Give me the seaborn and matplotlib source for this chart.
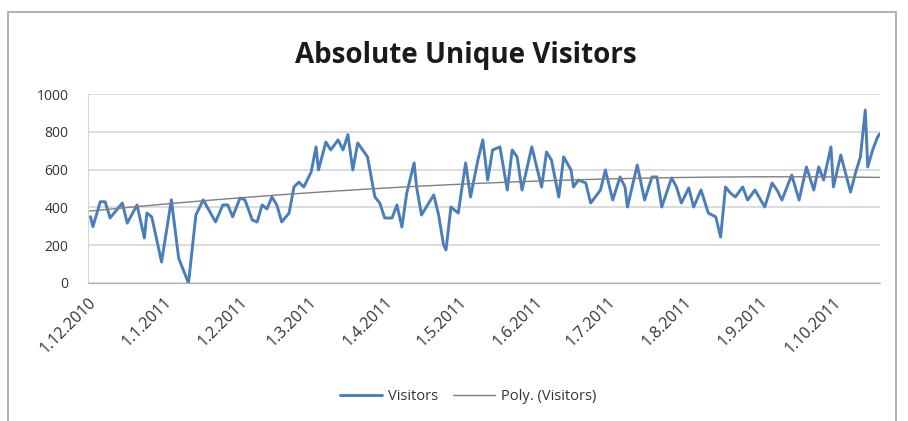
import matplotlib
matplotlib.use("Agg")
import matplotlib.pyplot as plt
import matplotlib.dates as mdates
import numpy as np
import pandas as pd
import seaborn as sns
from matplotlib.patches import Rectangle

# values: days since 1.12.2010 and unique visitors
DAYS = [1, 2, 5, 7, 9, 14, 16, 20, 23, 24, 26, 30, 34, 37, 41, 44, 47, 52, 55, 57,
        59, 62, 64, 67, 69, 71, 73, 75, 77, 79, 82, 84, 86, 88, 91, 93, 94, 97, 99, 102,
        104, 106, 108, 110, 114, 117, 119, 121, 124, 126, 128, 130, 133, 134, 136, 141, 143, 145, 146, 148,
        151, 154, 156, 159, 161, 163, 165, 168, 171, 173, 175, 177, 181, 183, 185, 187, 189, 192, 194, 197,
        198, 200, 203, 205, 209, 211, 214, 217, 219, 220, 224, 227, 230, 232, 234, 238, 240, 242, 245, 247,
        250, 253, 256, 258, 260, 262, 264, 267, 269, 272, 276, 279, 281, 283, 287, 290, 293, 296, 298, 300,
        303, 304, 307, 311, 313, 315, 317, 318, 320, 322, 323]
VISITORS = [351, 298, 430, 430, 344, 423, 317, 413, 238, 370, 350, 111, 440, 130, 0, 360, 440, 323, 413, 413,
            350, 450, 440, 333, 323, 413, 392, 455, 413, 323, 370, 508, 534, 508, 587, 720, 598, 746, 704, 757,
            704, 785, 598, 741, 667, 455, 423, 344, 344, 413, 296, 476, 635, 508, 360, 466, 360, 201, 175, 402,
            370, 635, 455, 650, 757, 545, 704, 720, 492, 704, 667, 492, 720, 614, 508, 693, 651, 455, 667, 598,
            508, 545, 529, 423, 492, 598, 439, 561, 508, 402, 624, 439, 561, 561, 402, 556, 508, 423, 503, 402,
            492, 370, 350, 243, 508, 476, 455, 508, 439, 492, 402, 529, 492, 439, 571, 439, 614, 492, 614, 545,
            720, 508, 677, 481, 582, 667, 915, 614, 704, 772, 790]

TREND_DAYS = [0, 86, 150, 209, 323]
TREND_VALUES = [384, 462, 525, 556, 556]

START = "2010-12-01"
MONTH_TICKS = ["2010-12-01", "2011-01-01", "2011-02-01", "2011-03-01", "2011-04-01", "2011-05-01",
               "2011-06-01", "2011-07-01", "2011-08-01", "2011-09-01", "2011-10-01"]
Y_TICKS = [0, 200, 400, 600, 800, 1000]

BLUE = "#4A7EBB"
TREND = "#7F7F7F"
GRID = "#D6D6D6"
TEXT = "#333333"

df = pd.DataFrame({"days": DAYS, "Visitors": VISITORS})
df["date"] = pd.to_datetime(START) + pd.to_timedelta(df["days"], unit="D")

# second order polynomial, like Excel's "Poly." trendline
coef = np.polyfit(TREND_DAYS, TREND_VALUES, 2)
t = np.arange(0, DAYS[-1] + 1)
trend = pd.DataFrame({"date": pd.to_datetime(START) + pd.to_timedelta(t, unit="D"),
                      "trend": np.polyval(coef, t)})

sns.set_style("white")
plt.rcParams["font.family"] = ["Open Sans", "DejaVu Sans"]

fig = plt.figure(figsize=(9.08, 4.21), dpi=100)
ax = fig.add_axes([88 / 908, 1 - 283 / 421, (880 - 88) / 908, (283 - 94) / 421])

fig.patches.append(Rectangle((8 / 908, -0.01), 888 / 908, 1 - 12 / 421 + 0.01,
                             transform=fig.transFigure, fill=False,
                             edgecolor="#A6A6A6", linewidth=1.2))

sns.lineplot(data=df, x="date", y="Visitors", ax=ax, color=BLUE, linewidth=2.1,
             label="Visitors")
sns.lineplot(data=trend, x="date", y="trend", ax=ax, color=TREND, linewidth=1.0,
             label="Poly. (Visitors)")

ax.set_ylim(0, 1000)
ax.set_xlim(pd.Timestamp(START), df["date"].iloc[-1])
ax.set_yticks(Y_TICKS)
ax.set_yticklabels([str(v) for v in Y_TICKS], fontsize=10, color=TEXT)
ax.set_xticks(pd.to_datetime(MONTH_TICKS))
ax.xaxis.set_major_formatter(mdates.DateFormatter("%-d.%-m.%Y"))
plt.setp(ax.get_xticklabels(), rotation=45, ha="right", rotation_mode="anchor",
         fontsize=11.5, color=TEXT)

ax.grid(axis="y", color=GRID, linewidth=1.2)
ax.grid(axis="x", visible=False)
for side in ["top", "right"]:
    ax.spines[side].set_visible(False)
ax.spines["left"].set_color(GRID)
ax.spines["bottom"].set_color("#B0B0B0")
ax.tick_params(axis="x", which="major", length=4, width=0.8, color="#B0B0B0", pad=4)
ax.tick_params(axis="y", length=0, pad=14)
ax.set_xlabel("")
ax.set_ylabel("")

fig.text(466 / 908, 1 - 55 / 421, "Absolute Unique Visitors", ha="center", va="center",
         fontsize=20, fontweight="bold", color="#1A1A1A")

ax.legend(loc="center", bbox_to_anchor=((468 - 88) / 792, -(397 - 283) / 189), ncol=2,
          frameon=False, fontsize=10.5, handlelength=2.9, handletextpad=0.4,
          columnspacing=1.0, labelcolor=TEXT)

fig.savefig("out.png", dpi=100)
